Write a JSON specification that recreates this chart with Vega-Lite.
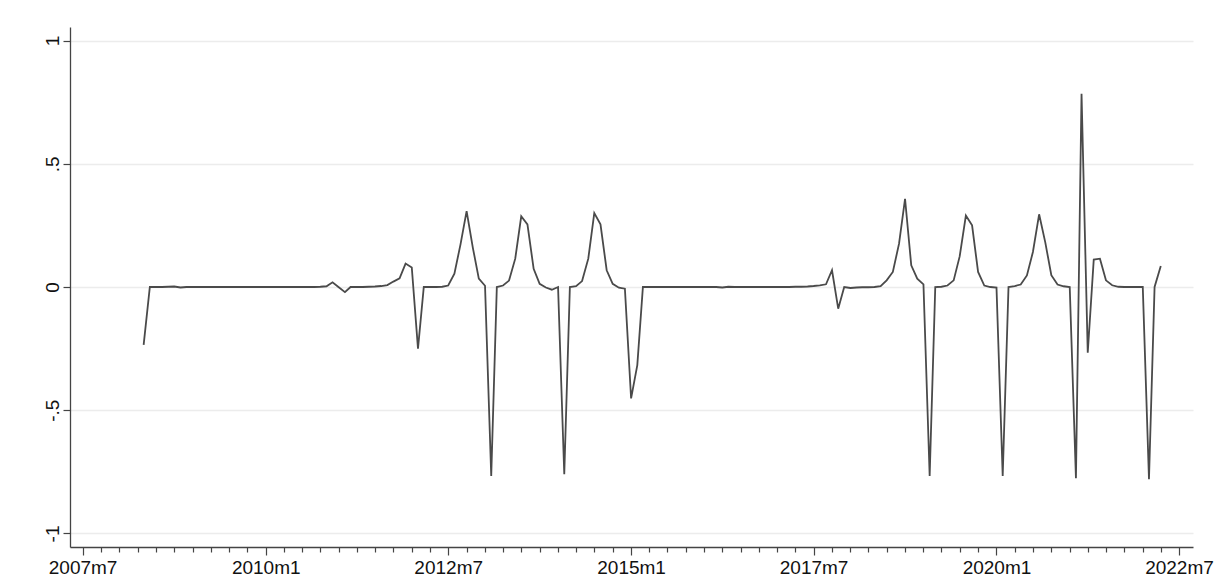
{
  "$schema": "https://vega.github.io/schema/vega-lite/v6.json",
  "width": 1123,
  "height": 520,
  "autosize": {"type": "none"},
  "padding": {"left": 70, "top": 27, "right": 25, "bottom": 39},
  "background": "white",
  "config": {"view": {"stroke": null}, "font": "Liberation Sans"},
  "data": {"values": [
    {"date":"2008-05-01","v":-0.235},{"date":"2008-06-01","v":0},{"date":"2008-07-01","v":0},{"date":"2008-08-01","v":0},
    {"date":"2008-09-01","v":0.001},{"date":"2008-10-01","v":0.002},{"date":"2008-11-01","v":-0.002},{"date":"2008-12-01","v":0},
    {"date":"2009-01-01","v":0},{"date":"2009-02-01","v":0},{"date":"2009-03-01","v":0},{"date":"2009-04-01","v":0},
    {"date":"2009-05-01","v":0},{"date":"2009-06-01","v":0},{"date":"2009-07-01","v":0},{"date":"2009-08-01","v":0},
    {"date":"2009-09-01","v":0},{"date":"2009-10-01","v":0},{"date":"2009-11-01","v":0},{"date":"2009-12-01","v":0},
    {"date":"2010-01-01","v":0},{"date":"2010-02-01","v":0},{"date":"2010-03-01","v":0},{"date":"2010-04-01","v":0},
    {"date":"2010-05-01","v":0},{"date":"2010-06-01","v":0},{"date":"2010-07-01","v":0},{"date":"2010-08-01","v":0},
    {"date":"2010-09-01","v":0},{"date":"2010-10-01","v":0.001},{"date":"2010-11-01","v":0.003},{"date":"2010-12-01","v":0.019},
    {"date":"2011-01-01","v":-0.001},{"date":"2011-02-01","v":-0.021},{"date":"2011-03-01","v":0},{"date":"2011-04-01","v":0},
    {"date":"2011-05-01","v":0},{"date":"2011-06-01","v":0.001},{"date":"2011-07-01","v":0.002},{"date":"2011-08-01","v":0.004},
    {"date":"2011-09-01","v":0.008},{"date":"2011-10-01","v":0.022},{"date":"2011-11-01","v":0.035},{"date":"2011-12-01","v":0.095},
    {"date":"2012-01-01","v":0.079},{"date":"2012-02-01","v":-0.25},{"date":"2012-03-01","v":0},{"date":"2012-04-01","v":0},
    {"date":"2012-05-01","v":0},{"date":"2012-06-01","v":0.001},{"date":"2012-07-01","v":0.006},{"date":"2012-08-01","v":0.054},
    {"date":"2012-09-01","v":0.175},{"date":"2012-10-01","v":0.308},{"date":"2012-11-01","v":0.16},{"date":"2012-12-01","v":0.034},
    {"date":"2013-01-01","v":0.005},{"date":"2013-02-01","v":-0.767},{"date":"2013-03-01","v":0},{"date":"2013-04-01","v":0.006},
    {"date":"2013-05-01","v":0.026},{"date":"2013-06-01","v":0.115},{"date":"2013-07-01","v":0.287},{"date":"2013-08-01","v":0.254},
    {"date":"2013-09-01","v":0.074},{"date":"2013-10-01","v":0.013},{"date":"2013-11-01","v":-0.002},{"date":"2013-12-01","v":-0.011},
    {"date":"2014-01-01","v":0},{"date":"2014-02-01","v":-0.76},{"date":"2014-03-01","v":0},{"date":"2014-04-01","v":0.003},
    {"date":"2014-05-01","v":0.024},{"date":"2014-06-01","v":0.115},{"date":"2014-07-01","v":0.3},{"date":"2014-08-01","v":0.254},
    {"date":"2014-09-01","v":0.068},{"date":"2014-10-01","v":0.013},{"date":"2014-11-01","v":-0.003},{"date":"2014-12-01","v":-0.007},
    {"date":"2015-01-01","v":-0.452},{"date":"2015-02-01","v":-0.317},{"date":"2015-03-01","v":0},{"date":"2015-04-01","v":0},
    {"date":"2015-05-01","v":0},{"date":"2015-06-01","v":0},{"date":"2015-07-01","v":0},{"date":"2015-08-01","v":0},
    {"date":"2015-09-01","v":0},{"date":"2015-10-01","v":0},{"date":"2015-11-01","v":0},{"date":"2015-12-01","v":0},
    {"date":"2016-01-01","v":0},{"date":"2016-02-01","v":0},{"date":"2016-03-01","v":0},{"date":"2016-04-01","v":-0.002},
    {"date":"2016-05-01","v":0.001},{"date":"2016-06-01","v":0},{"date":"2016-07-01","v":0},{"date":"2016-08-01","v":0},
    {"date":"2016-09-01","v":0},{"date":"2016-10-01","v":0},{"date":"2016-11-01","v":0},{"date":"2016-12-01","v":0},
    {"date":"2017-01-01","v":0},{"date":"2017-02-01","v":0},{"date":"2017-03-01","v":0},{"date":"2017-04-01","v":0.001},
    {"date":"2017-05-01","v":0.001},{"date":"2017-06-01","v":0.002},{"date":"2017-07-01","v":0.004},{"date":"2017-08-01","v":0.007},
    {"date":"2017-09-01","v":0.011},{"date":"2017-10-01","v":0.068},{"date":"2017-11-01","v":-0.088},{"date":"2017-12-01","v":0},
    {"date":"2018-01-01","v":-0.004},{"date":"2018-02-01","v":-0.002},{"date":"2018-03-01","v":-0.001},{"date":"2018-04-01","v":-0.001},
    {"date":"2018-05-01","v":0},{"date":"2018-06-01","v":0.003},{"date":"2018-07-01","v":0.027},{"date":"2018-08-01","v":0.061},
    {"date":"2018-09-01","v":0.176},{"date":"2018-10-01","v":0.358},{"date":"2018-11-01","v":0.088},{"date":"2018-12-01","v":0.034},
    {"date":"2019-01-01","v":0.011},{"date":"2019-02-01","v":-0.767},{"date":"2019-03-01","v":0},{"date":"2019-04-01","v":0.001},
    {"date":"2019-05-01","v":0.006},{"date":"2019-06-01","v":0.027},{"date":"2019-07-01","v":0.124},{"date":"2019-08-01","v":0.29},
    {"date":"2019-09-01","v":0.25},{"date":"2019-10-01","v":0.061},{"date":"2019-11-01","v":0.006},{"date":"2019-12-01","v":0},
    {"date":"2020-01-01","v":-0.002},{"date":"2020-02-01","v":-0.767},{"date":"2020-03-01","v":0},{"date":"2020-04-01","v":0.004},
    {"date":"2020-05-01","v":0.01},{"date":"2020-06-01","v":0.047},{"date":"2020-07-01","v":0.142},{"date":"2020-08-01","v":0.295},
    {"date":"2020-09-01","v":0.18},{"date":"2020-10-01","v":0.048},{"date":"2020-11-01","v":0.01},{"date":"2020-12-01","v":0.003},
    {"date":"2021-01-01","v":0},{"date":"2021-02-01","v":-0.776},{"date":"2021-03-01","v":0.784},{"date":"2021-04-01","v":-0.267},
    {"date":"2021-05-01","v":0.111},{"date":"2021-06-01","v":0.115},{"date":"2021-07-01","v":0.027},{"date":"2021-08-01","v":0.007},
    {"date":"2021-09-01","v":0.001},{"date":"2021-10-01","v":0},{"date":"2021-11-01","v":0},{"date":"2021-12-01","v":0},
    {"date":"2022-01-01","v":0},{"date":"2022-02-01","v":-0.78},{"date":"2022-03-01","v":0},{"date":"2022-04-01","v":0.085}
  ]},
  "mark": {"type": "line", "color": "#4a4a4a", "strokeWidth": 1.8},
  "encoding": {
    "x": {
      "field": "date",
      "type": "temporal",
      "scale": {"type": "utc", "domain": [{"year": 2007, "month": 4, "date": 29, "utc": true}, {"year": 2022, "month": 9, "date": 9, "utc": true}]},
      "axis": {
        "title": null,
        "grid": false,
        "tickCount": {"interval": "month", "step": 3},
        "labelExpr": "(utcyear(datum.value)*12+utcmonth(datum.value)-24090)%30==0 ? utcyear(datum.value)+'m'+(utcmonth(datum.value)+1) : ''",
        "tickSize": {"condition": {"test": "(utcyear(datum.value)*12+utcmonth(datum.value)-24090)%30==0", "value": 8}, "value": 5},
        "labelOverlap": false,
        "labelFlush": false,
        "labelFontSize": 19,
        "labelColor": "#111111",
        "labelPadding": 3,
        "domainColor": "#444444",
        "domainWidth": 1.3,
        "tickColor": "#444444",
        "tickWidth": 1.2
      }
    },
    "y": {
      "field": "v",
      "type": "quantitative",
      "scale": {"domain": [-1.055, 1.055], "nice": false, "zero": false},
      "axis": {
        "title": null,
        "values": [-1, -0.5, 0, 0.5, 1],
        "labelExpr": "datum.value==1?'1':datum.value==-1?'-1':datum.value==0.5?'.5':datum.value==-0.5?'-.5':'0'",
        "labelAngle": -90,
        "labelAlign": "center",
        "labelBaseline": "bottom",
        "labelPadding": 1,
        "labelFontSize": 19,
        "labelColor": "#111111",
        "tickSize": 7,
        "tickColor": "#444444",
        "tickWidth": 1.2,
        "domainColor": "#444444",
        "domainWidth": 1.3,
        "grid": true,
        "gridColor": "#ececec",
        "gridWidth": 1.5
      }
    }
  }
}
